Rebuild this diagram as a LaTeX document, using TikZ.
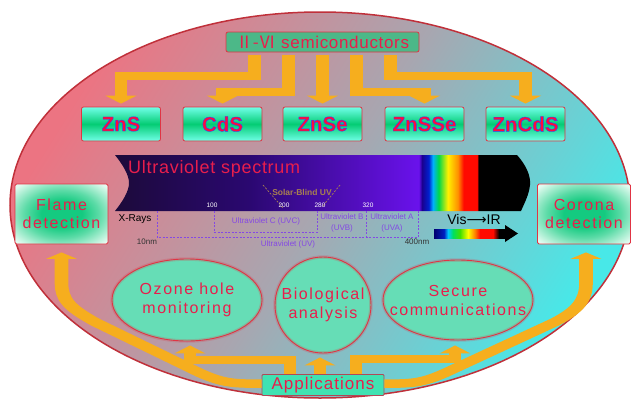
\documentclass[tikz,border=0pt]{standalone}
\usepackage{fontspec}
\setmainfont{Liberation Sans}
\newfontfamily\spaced[LetterSpace=10]{Liberation Sans}
\newfontfamily\mspaced[LetterSpace=6]{Liberation Sans}
\newfontfamily\sspaced[LetterSpace=4]{Liberation Sans}
\newfontfamily\zfont[FakeBold=1.8]{Liberation Sans Bold}
\newfontfamily\cjk{Noto Sans CJK SC}
\newfontfamily\djv{DejaVu Sans}
\usetikzlibrary{arrows.meta,shapes.geometric,calc}
\definecolor{epink}{HTML}{EC7482}
\definecolor{egray}{HTML}{A8A6B0}
\definecolor{ecyan}{HTML}{48E8E8}
\definecolor{ered}{HTML}{C0303A}
\definecolor{boxred}{HTML}{E03444}
\definecolor{tred}{HTML}{E81E4C}
\definecolor{semigreen}{HTML}{4CB888}
\definecolor{mcyan}{HTML}{70FFE8}
\definecolor{mgreen}{HTML}{04CC74}
\definecolor{zred}{HTML}{FF0A3C}
\definecolor{aorange}{HTML}{F6AE1E}
\definecolor{dgreen}{HTML}{14CA80}
\definecolor{dpale}{HTML}{E2FBF0}
\definecolor{ellfill}{HTML}{66DDB6}
\definecolor{appfill}{HTML}{40E2B2}
\definecolor{appborder}{HTML}{B04858}
\definecolor{uvpurple}{HTML}{8448E4}
\definecolor{tan}{HTML}{A88050}
\definecolor{uv0}{HTML}{1C0A3A}
\definecolor{uv1}{HTML}{2A0870}
\definecolor{uv2}{HTML}{6A12EC}
\definecolor{sp1}{HTML}{1A0090}
\definecolor{sp2}{HTML}{0020D0}
\definecolor{sp3}{HTML}{00B0FF}
\definecolor{sp4}{HTML}{00D848}
\definecolor{sp5}{HTML}{FFF000}
\definecolor{sp6}{HTML}{FF9000}
\definecolor{sp7}{HTML}{FF0A00}
\definecolor{vb0}{HTML}{000070}
\definecolor{vb1}{HTML}{0020C0}
\definecolor{vb2}{HTML}{00C8FF}
\definecolor{vb3}{HTML}{00E060}
\definecolor{vb4}{HTML}{40E000}
\pgfdeclarehorizontalshading{uvspec}{100bp}{color(0bp)=(uv0); color(25bp)=(uv0); color(41bp)=(uv1); color(61.5bp)=(uv2); color(61.9bp)=(sp1); color(62.7bp)=(sp2); color(63.2bp)=(sp3); color(63.9bp)=(sp4); color(65bp)=(sp5); color(66.2bp)=(sp6); color(66.9bp)=(sp7); color(68.5bp)=(sp7); color(68.7bp)=(black); color(100bp)=(black)}
\pgfdeclarehorizontalshading{visbar}{100bp}{color(0bp)=(vb0); color(25bp)=(vb0); color(31.8bp)=(vb1); color(34.6bp)=(vb2); color(38bp)=(vb3); color(42.8bp)=(vb4); color(48.3bp)=(yellow); color(53bp)=(orange); color(56.5bp)=(sp7); color(65.4bp)=(sp7); color(69.5bp)=(black); color(100bp)=(black)}
\pgfdeclareradialshading{detsh}{\pgfpoint{0bp}{0bp}}{color(0bp)=(dgreen); color(11bp)=(dgreen); color(20bp)=(dpale!35!dgreen); color(27bp)=(dpale!70!dgreen); color(33bp)=(dpale); color(50bp)=(dpale)}
\newcommand\ztxt[1]{{\color{zred}\special{pdf:literal direct 0.125 0.314 1 RG}\zfont #1}}
\begin{document}
\begin{tikzpicture}[x=1pt,y=-1pt,
  semibox/.style={draw=boxred, fill=semigreen, rounded corners=2pt, line width=0.8pt, minimum width=193pt, minimum height=20pt, inner sep=0pt, text=tred, font=\sspaced\fontsize{17}{17}\selectfont},
  matbox/.style={draw=boxred, top color=mcyan, bottom color=mcyan, middle color=mgreen, rounded corners=2pt, line width=0.8pt, minimum width=79pt, minimum height=34pt, inner sep=0pt, font=\fontsize{20.5}{20.5}\selectfont},
  detbox/.style={draw=boxred, shading=detsh, rounded corners=1.5pt, line width=0.8pt, minimum width=93pt, minimum height=60pt, inner sep=0pt, align=center, font=\spaced\fontsize{16}{18}\selectfont, text=tred},
  appell/.style={ellipse, draw=boxred, fill=ellfill, line width=0.9pt, align=center, inner xsep=-30pt, inner ysep=-15pt, font=\spaced\fontsize{16}{19}\selectfont, text=tred, postaction={draw=boxred, line width=3.5pt, draw opacity=0.22}},
  appbox/.style={draw=appborder, fill=appfill, line width=0.8pt, rounded corners=1pt, minimum width=122pt, minimum height=21pt, inner sep=0pt, font=\mspaced\fontsize{17}{17}\selectfont, text=tred},
  oarr/.style={draw=aorange, line width=8pt, line join=miter, -{Triangle[width=19pt,length=8pt]}},
  bigarr/.style={draw=aorange, line width=8.5pt, line join=round, -{Triangle[width=19pt,length=6.5pt]}},
  uvtxt/.style={text=uvpurple, font=\fontsize{8}{11}\selectfont, inner sep=0pt, align=center},
  numtxt/.style={text=white, font=\fontsize{6.5}{6.5}\selectfont, inner sep=0pt},
  nmtxt/.style={text=black!80, font=\fontsize{8}{8}\selectfont, inner sep=0pt},
  uvdash/.style={draw=uvpurple, line width=0.7pt, dash pattern=on 2pt off 1.5pt},
  sbdash/.style={draw=tan, line width=0.7pt, dash pattern=on 2pt off 1.5pt}]
\useasboundingbox (0,0) rectangle (632,399);
\fill[white] (0,0) rectangle (632,399);
% big background ellipse
\shadedraw[top color=epink, bottom color=ecyan, middle color=egray, shading angle=58, draw=ered, line width=1.5pt] (320,205) ellipse [x radius=310, y radius=193];

% top box and materials
\node[semibox] (semi) at (322.5,42) {{\cjk Ⅱ-Ⅵ} semiconductors};
\node[matbox] (zns) at (121,124) {\ztxt{ZnS}};
\node[matbox] (cds) at (222.5,124) {\ztxt{CdS}};
\node[matbox] (znse) at (322.5,124) {\ztxt{ZnSe}};
\node[matbox] (znsse) at (424.5,124) {\ztxt{ZnSSe}};
\node[matbox] (zncds) at (525.5,124) {\ztxt{ZnCdS}};

% spectrum band
\shade[shading=uvspec] (115,155) -- (517,155) .. controls (526,165) and (531,176) .. (530,185) .. controls (529,195) and (524,204) .. (521,211) -- (115,211) .. controls (123,201) and (129,191) .. (129,183) .. controls (129,175) and (123,165) .. (115,155) -- cycle;
\node[anchor=base west, inner sep=0pt, text=tred, font=\sspaced\fontsize{18}{18}\selectfont] (uvs) at (128,173) {Ultraviolet spectrum};
\node[inner sep=0pt, text=tan, font=\fontsize{8.5}{8.5}\selectfont\bfseries] (sb) at (302,192) {Solar-Blind UV};
\draw[sbdash] (263,185) -- (283,208);
\draw[sbdash] (340,185) -- (322,207);
\node[numtxt] (n100) at (212,205) {100};
\node[numtxt] (n200) at (284,205) {200};
\node[numtxt] (n280) at (320,205) {280};
\node[numtxt] (n320) at (368,205) {320};

% UV ranges
\draw[uvdash] (157,211) -- (157,237) -- (418,237) -- (418,211);
\draw[uvdash] (214,211) -- (214,232) -- (317,232) -- (317,211);
\draw[uvdash] (366,211) -- (366,237);
\node[uvtxt] (uvc) at (266,221) {Ultraviolet C (UVC)};
\node[uvtxt] (uvb) at (342,222.5) {Ultraviolet B\\(UVB)};
\node[uvtxt] (uva) at (392,222.5) {Ultraviolet A\\(UVA)};
\node[uvtxt] (uv) at (288,244.5) {Ultraviolet (UV)};
\node[nmtxt] (nm10) at (147,241.5) {10nm};
\node[nmtxt] (nm400) at (417,241.5) {400nm};
\node[inner sep=0pt, font=\fontsize{10}{10}\selectfont] (xr) at (135,219) {X-Rays};

% visible to IR
\node[inner sep=0pt, font=\fontsize{14}{14}\selectfont] (vis) at (474,219) {Vis{\djv ⟶}IR};
\shade[shading=visbar] (434,229) rectangle (507,238);
\fill[black] (505,225) -- (518,233.5) -- (505,242) -- cycle;

% detection boxes
\node[detbox] (flame) at (61.5,214) {Flame\\detection};
\node[detbox] (corona) at (584,214) {Corona\\detection};

% application ellipses
\node[appell, minimum width=150pt, minimum height=82pt] (ozone) at (187,300) {Ozone hole\\monitoring};
\node[appell, minimum width=96pt, minimum height=96pt] (bio) at (323,305) {Biological\\analysis};
\node[appell, minimum width=150pt, minimum height=80pt] (secure) at (458,300) {Secure\\communications};

\node[appbox] (apps) at (323,385) {Applications};

% arrows (drawn in a horizontally stretched canvas: vertical strokes are wider than horizontal ones)
\begin{scope}[transform canvas={xscale=1.6}]
\draw[oarr] let \p1=([xshift=-68pt,yshift=-3pt]semi.south), \p2=([yshift=31pt]zns.north), \p3=([yshift=3pt]zns.north) in (\x1/1.6,\y1) |- (\x2/1.6,\y2) -- (\x3/1.6,\y3);
\draw[oarr] let \p1=([xshift=-34pt,yshift=-3pt]semi.south), \p2=([yshift=15pt]cds.north), \p3=([yshift=3pt]cds.north) in (\x1/1.6,\y1) |- (\x2/1.6,\y2) -- (\x3/1.6,\y3);
\draw[oarr] let \p1=([yshift=-3pt]semi.south), \p3=([yshift=3pt]znse.north) in (\x1/1.6,\y1) -- (\x3/1.6,\y3);
\draw[oarr] let \p1=([xshift=34pt,yshift=-3pt]semi.south), \p2=([yshift=15pt]znsse.north), \p3=([yshift=3pt]znsse.north) in (\x1/1.6,\y1) |- (\x2/1.6,\y2) -- (\x3/1.6,\y3);
\draw[oarr] let \p1=([xshift=68pt,yshift=-3pt]semi.south), \p2=([yshift=31pt]zncds.north), \p3=([yshift=3pt]zncds.north) in (\x1/1.6,\y1) |- (\x2/1.6,\y2) -- (\x3/1.6,\y3);

\draw[oarr] let \p1=([xshift=-33pt]apps.north), \p2=([xshift=3pt,yshift=-19pt]ozone.south), \p3=([xshift=3pt,yshift=-4pt]ozone.south) in (\x1/1.6,\y1) |- (\x2/1.6,\y2) -- (\x3/1.6,\y3);
\draw[oarr] let \p1=([xshift=-3pt]apps.north), \p3=([xshift=-3pt,yshift=-4pt]bio.south) in (\x1/1.6,\y1) -- (\x3/1.6,\y3);
\draw[oarr] let \p1=([xshift=33pt]apps.north), \p2=([xshift=-3pt,yshift=-19pt]secure.south), \p3=([xshift=-3pt,yshift=-5pt]secure.south) in (\x1/1.6,\y1) |- (\x2/1.6,\y2) -- (\x3/1.6,\y3);

\draw[bigarr] let \p1=(apps.west), \p3=([yshift=-8pt]flame.south) in (\x1/1.6,383.5) -- (245/1.6,383.5) .. controls (225/1.6,383) and (215/1.6,379.5) .. (200/1.6,373) -- (95/1.6,322) .. controls (70/1.6,308) and (\x3/1.6,300) .. (\x3/1.6,283) -- (\x3/1.6,\y3);
\draw[bigarr] let \p1=(apps.east), \p3=([xshift=2pt,yshift=-8pt]corona.south) in (\x1/1.6,383.5) -- (400/1.6,383.5) .. controls (420/1.6,383) and (430/1.6,379.5) .. (445/1.6,373) -- (555/1.6,322) .. controls (578/1.6,310) and (\x3/1.6,300) .. (\x3/1.6,283) -- (\x3/1.6,\y3);
\end{scope}
\end{tikzpicture}
\end{document}
